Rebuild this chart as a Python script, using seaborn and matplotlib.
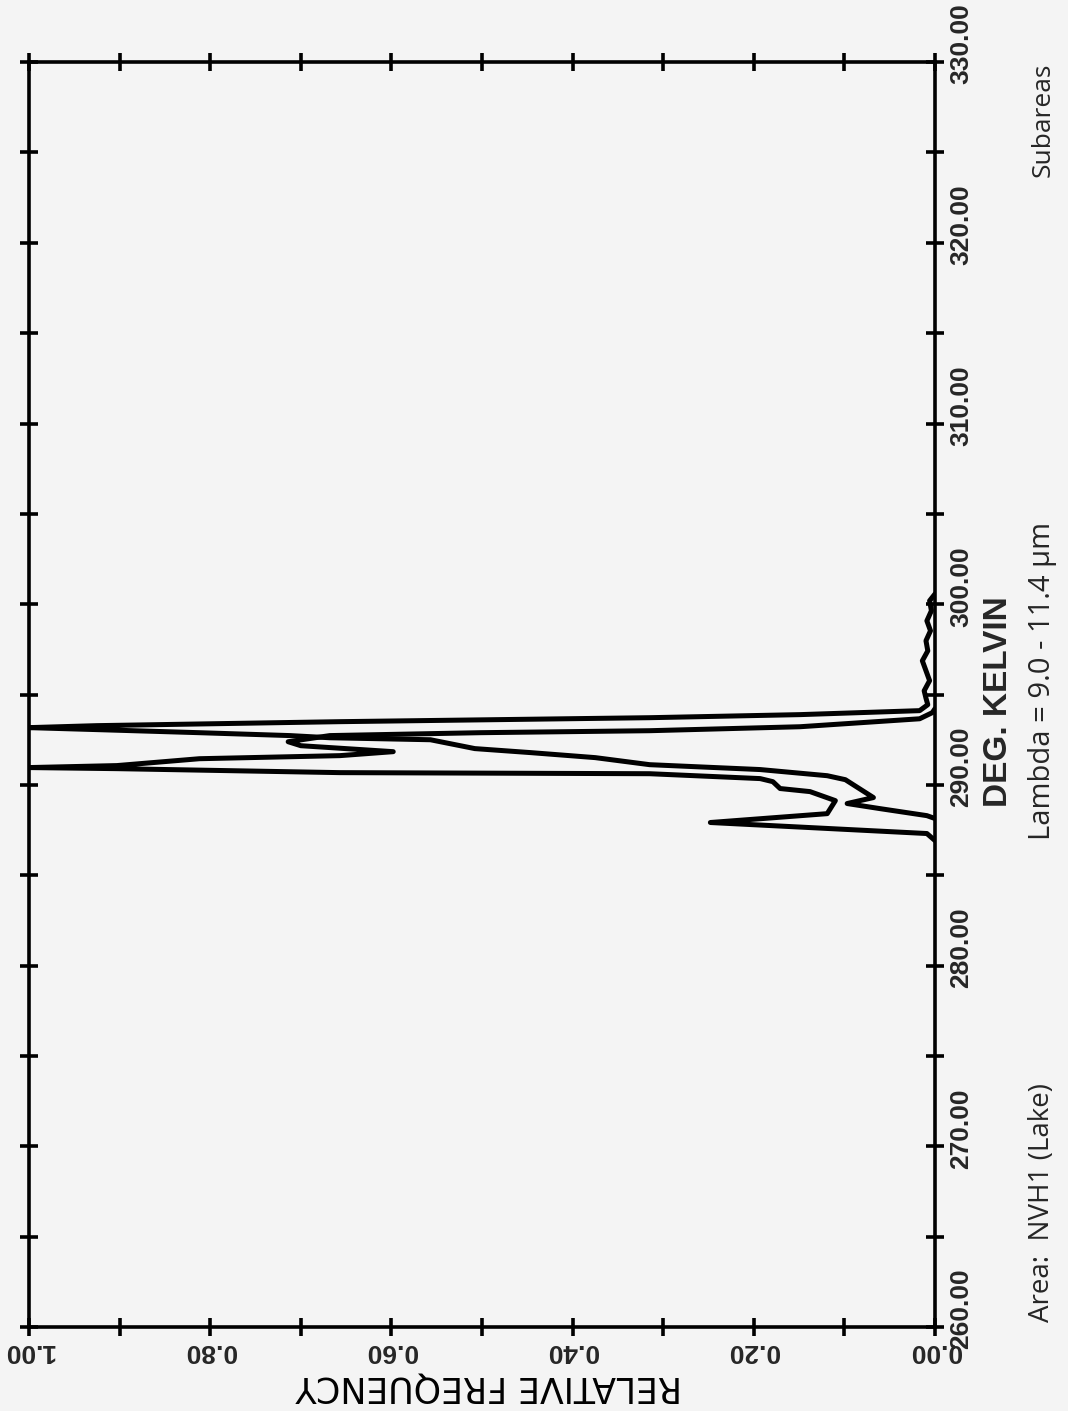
import pandas as pd
import matplotlib
matplotlib.use("Agg")
import matplotlib.pyplot as plt
import matplotlib.transforms as mtransforms
from matplotlib.ticker import MultipleLocator, FormatStrFormatter
import seaborn as sns

# curve 1: warm peak (cold tail -> peak -> warm tail, drawing order)
temp_a = [288.14, 288.30, 288.69, 288.97, 289.30, 290.29, 290.51, 290.85, 291.12,
          291.51, 291.79, 292.01, 292.50, 292.61, 292.73, 292.89, 293.06, 293.17,
          293.28, 293.50, 293.72, 293.89, 294.11, 294.44, 294.80, 295.21, 295.77,
          296.32, 296.87, 297.42, 297.98, 298.53, 299.08, 299.64, 300.19, 300.57]
freq_a = [0.0, 0.009, 0.061, 0.097, 0.068, 0.099, 0.119, 0.193, 0.315,
          0.375, 0.447, 0.508, 0.557, 0.668, 0.712, 0.812, 0.925, 1.0,
          0.925, 0.657, 0.315, 0.149, 0.017, 0.008, 0.010, 0.012, 0.006,
          0.010, 0.014, 0.008, 0.010, 0.005, 0.009, 0.004, 0.006, 0.0]

# curve 2: cold peak with the spike near 288 K
temp_b = [286.92, 287.31, 287.92, 288.41, 289.13, 289.63, 289.80, 290.18, 290.35,
          290.62, 290.68, 290.90, 290.96, 291.07, 291.45, 291.62, 291.84, 292.17,
          292.39, 292.73, 292.89, 293.00, 293.22, 293.66, 294.00, 294.22]
freq_b = [0.0, 0.009, 0.248, 0.119, 0.110, 0.138, 0.171, 0.179, 0.193,
          0.315, 0.657, 0.903, 1.0, 0.903, 0.812, 0.657, 0.598, 0.70,
          0.714, 0.668, 0.502, 0.315, 0.149, 0.017, 0.003, 0.0]

temp_ticks = [260, 270, 280, 290, 300, 310, 320, 330]
freq_ticks = [0.0, 0.2, 0.4, 0.6, 0.8, 1.0]

df = pd.concat([
    pd.DataFrame({"temp": temp_a, "freq": freq_a, "curve": "a"}),
    pd.DataFrame({"temp": temp_b, "freq": freq_b, "curve": "b"}),
], ignore_index=True)

sns.set_style("white")
plt.rcParams["font.family"] = ["DejaVu Sans"]

paper = "#f4f4f4"
fig = plt.figure(figsize=(10.68, 14.11), dpi=100, facecolor=paper)
ax = fig.add_axes([0.0272, 0.0595, 0.8483, 0.8965])
ax.set_facecolor(paper)

sns.lineplot(data=df, x="freq", y="temp", units="curve", estimator=None,
             sort=False, color="black", linewidth=3.6, ax=ax, legend=False)

ax.set_xlim(1.0, 0.0)
ax.set_ylim(260, 330)

for s in ax.spines.values():
    s.set_visible(True)
    s.set_linewidth(2.6)
    s.set_color("black")

ax.set_yticks(temp_ticks)
ax.set_xticks(freq_ticks)
ax.yaxis.set_minor_locator(MultipleLocator(5))
ax.xaxis.set_minor_locator(MultipleLocator(0.1))
ax.yaxis.set_major_formatter(FormatStrFormatter("%.2f"))
ax.xaxis.set_major_formatter(FormatStrFormatter("%.2f"))

ax.tick_params(axis="both", which="both", direction="inout", length=13,
               width=2.6, color="black")
ax.tick_params(axis="y", which="both", left=True, right=True,
               labelleft=False, labelright=True, labelrotation=90, pad=4)
ax.tick_params(axis="x", which="both", top=True, bottom=True,
               labeltop=False, labelbottom=True, labelrotation=180, pad=2)

for lab in ax.get_yticklabels() + ax.get_xticklabels():
    lab.set_fontfamily(["Liberation Sans", "DejaVu Sans"])
    lab.set_fontweight("bold")
    lab.set_fontsize(19)

# shift temperature labels a little toward the warm end, like the original
shift = mtransforms.ScaledTranslation(0, 0.18, fig.dpi_scale_trans)
for tick in ax.yaxis.get_major_ticks():
    tick.label2.set_transform(tick.label2.get_transform() + shift)
    tick.label2.set_va("center")

ax.set_xlabel("")
ax.set_ylabel("")

fig.text(0.458, 0.0175, "RELATIVE FREQUENCY", rotation=180, ha="center",
         va="center", fontsize=25, color="black")
fig.text(0.9345, 0.428, "DEG. KELVIN", rotation=90, ha="center", va="bottom",
         fontsize=24, fontweight="bold", family=["Liberation Sans", "DejaVu Sans"])
fig.text(0.9757, 0.4047, "Lambda = 9.0 - 11.4 \u03bcm", rotation=90,
         ha="center", va="bottom", fontsize=21, family=["Open Sans", "DejaVu Sans"])
fig.text(0.9757, 0.0631, "Area:  NVH1 (Lake)", rotation=90, ha="center",
         va="bottom", fontsize=20, family=["Open Sans", "DejaVu Sans"])
fig.text(0.9766, 0.9553, "Subareas", rotation=90, ha="center", va="top",
         fontsize=19, family=["Open Sans", "DejaVu Sans"])

fig.savefig("out.png", dpi=100, facecolor=paper)
